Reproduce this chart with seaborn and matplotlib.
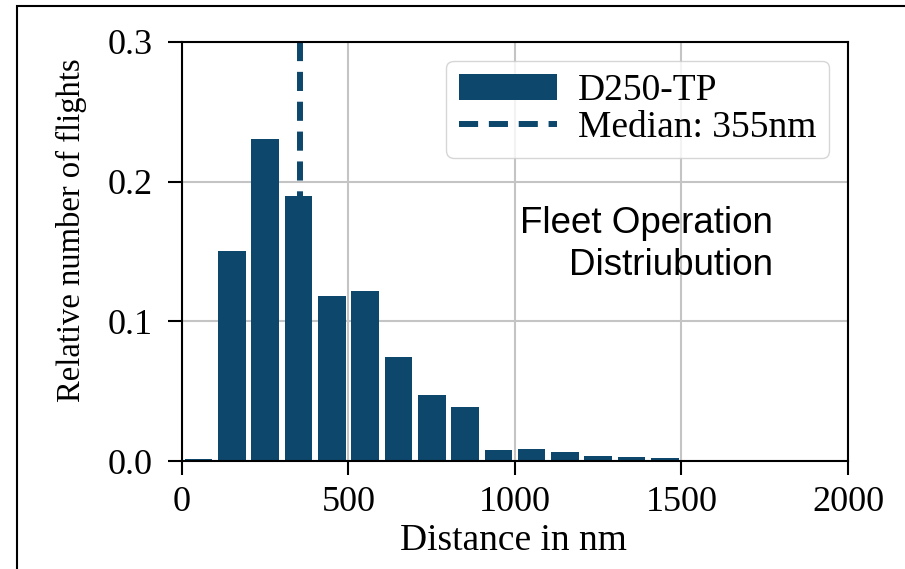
import pandas as pd
import seaborn as sns
import matplotlib.pyplot as plt
from matplotlib.patches import Rectangle

# flight distance histogram (relative frequency per 100 nm bin)
bin_edges = [0, 100, 200, 300, 400, 500, 600, 700, 800, 900, 1000, 1100, 1200, 1300, 1400, 1500]
rel_flights = [0.0017, 0.150, 0.2305, 0.190, 0.118, 0.122, 0.0745, 0.047, 0.039,
               0.0078, 0.0085, 0.0061, 0.0037, 0.0029, 0.0022]
median_nm = 355
series_name = 'D250-TP'
x_ticks = [0, 500, 1000, 1500, 2000]
y_ticks = [0.0, 0.1, 0.2, 0.3]

bar_color = '#0d476c'

sns.set_theme(style='ticks')
plt.rcParams['font.family'] = ['Liberation Serif', 'DejaVu Serif']
plt.rcParams['text.color'] = 'black'
plt.rcParams['axes.labelcolor'] = 'black'
plt.rcParams['xtick.color'] = 'black'
plt.rcParams['ytick.color'] = 'black'

centers = [(a + b) / 2 for a, b in zip(bin_edges[:-1], bin_edges[1:])]
df = pd.DataFrame({'distance': centers, 'rel': rel_flights})

fig = plt.figure(figsize=(9.05, 5.69), dpi=100)
ax = fig.add_axes([0.2011, 0.1898, 0.7359, 0.7364])

sns.histplot(data=df, x='distance', weights='rel', bins=bin_edges, shrink=0.83,
             color=bar_color, alpha=1, linewidth=0, label=series_name, ax=ax)
# drawn top-down so the dash pattern starts at the top spine
ax.axvline(median_nm, ymin=1, ymax=0, color=bar_color, lw=4.3, ls=(0, (3.2, 1.8)),
           label='Median: {}nm'.format(median_nm))

ax.set_xlim(0, 2000)
ax.set_ylim(0, 0.3)
ax.set_xticks(x_ticks)
ax.set_yticks(y_ticks)
ax.yaxis.set_major_formatter('{x:.1f}')
ax.grid(True, color='#c4c4c4', lw=1.5)
ax.set_axisbelow(True)
ax.tick_params(direction='out', length=10, width=1.5, labelsize=26, color='black', labelcolor='black')
ax.tick_params(axis='y', pad=11)
ax.tick_params(axis='x', pad=8)
for s in ax.spines.values():
    s.set_visible(True)
    s.set_color('black')
    s.set_linewidth(1.5)

ax.set_xlabel('Distance in nm', fontsize=27)
ax.set_ylabel('Relative number of flights', fontsize=23.5)
ax.xaxis.set_label_coords(0.498, -0.148)
ax.yaxis.set_label_coords(-0.143, 0.55)

handles, labels = ax.get_legend_handles_labels()
order = [labels.index(series_name)] + [i for i, l in enumerate(labels) if l != series_name]
ax.legend([handles[i] for i in order], [labels[i] for i in order],
          loc='upper right', fontsize=27, frameon=True, fancybox=True, edgecolor='#cccccc',
          framealpha=0.8, handlelength=2.6, handletextpad=0.55, labelspacing=0.05, borderpad=0.35)

ax.text(1775, 0.1825, 'Fleet Operation\nDistriubution', ha='right', va='top', ma='right',
        fontsize=26.5, linespacing=1.25, family=['Liberation Sans', 'DejaVu Sans'], color='black')

fig.add_artist(Rectangle((17 / 905, -0.5), 2, 0.5 + (1 - 6 / 569), transform=fig.transFigure,
                         fill=False, edgecolor='black', lw=1.5))

fig.savefig('out.png', dpi=100)
